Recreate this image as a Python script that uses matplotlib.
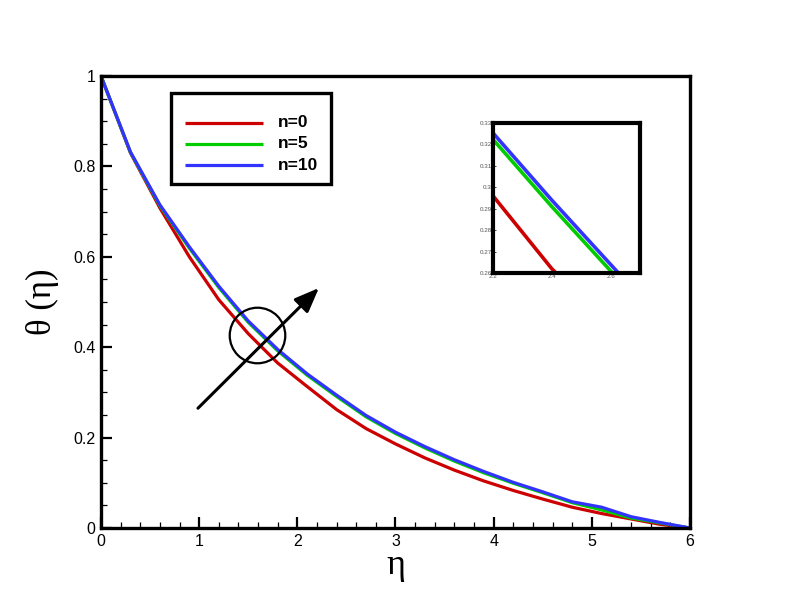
import matplotlib
matplotlib.use("Agg")
import matplotlib.pyplot as plt
from matplotlib.ticker import MultipleLocator, FixedLocator, FuncFormatter
from matplotlib.patches import Rectangle

eta = [0.0, 0.3, 0.6, 0.9, 1.2, 1.5, 1.8, 2.1, 2.4, 2.7, 3.0, 3.3, 3.6, 3.9,
       4.2, 4.5, 4.8, 5.1, 5.4, 5.7, 6.0]
theta_n0 = [1.0, 0.830, 0.708, 0.600, 0.505, 0.430, 0.365, 0.313, 0.262, 0.220,
            0.186, 0.155, 0.128, 0.104, 0.083, 0.064, 0.046, 0.032, 0.020, 0.008, 0.0]
theta_n5 = [1.0, 0.831, 0.713, 0.619, 0.532, 0.455, 0.392, 0.338, 0.291, 0.246,
            0.209, 0.177, 0.148, 0.122, 0.099, 0.078, 0.056, 0.040, 0.022, 0.011, 0.0]
theta_n10 = [1.0, 0.832, 0.715, 0.622, 0.535, 0.458, 0.395, 0.341, 0.294, 0.249,
             0.212, 0.180, 0.151, 0.125, 0.101, 0.080, 0.058, 0.046, 0.025, 0.012, 0.0]
labels = ["n=0", "n=5", "n=10"]
colors = ["#CC0000", "#00CC00", "#3333FF"]

fig = plt.figure(figsize=(7.89, 5.96), dpi=100)
ax = fig.add_axes([0.128, 0.1141, 0.7465, 0.7584])

for y, lab, c in zip([theta_n0, theta_n5, theta_n10], labels, colors):
    ax.plot(eta, y, color=c, lw=2.3, label=lab, solid_joinstyle="round")

ax.set_xlim(0, 6)
ax.set_ylim(0, 1)
ax.xaxis.set_major_locator(MultipleLocator(1))
ax.xaxis.set_minor_locator(MultipleLocator(0.2))
ax.yaxis.set_major_locator(MultipleLocator(0.2))
ax.yaxis.set_minor_locator(MultipleLocator(0.05))
ax.tick_params(which="both", direction="in", top=False, right=False, color="black")
ax.tick_params(which="major", length=8, width=1.6, labelsize=11.5, pad=4)
ax.tick_params(which="minor", length=4, width=0.9)
ax.xaxis.set_major_formatter(FuncFormatter(lambda v, p: f"{v:g}"))
ax.yaxis.set_major_formatter(FuncFormatter(lambda v, p: f"{v:g}"))
for lbl in ax.get_xticklabels() + ax.get_yticklabels():
    lbl.set_family("Liberation Sans")
for s in ax.spines.values():
    s.set_linewidth(2.4)

ax.set_xlabel("η", family="Liberation Serif", fontsize=26, labelpad=0)
ax.set_ylabel("θ (η)", family="Liberation Serif", fontsize=25, labelpad=10)

# legend drawn as a framed key (axes-fraction layout)
ax.add_patch(Rectangle((0.1188, 0.761), 0.2717, 0.2014, transform=ax.transAxes,
                       fill=True, facecolor="white", edgecolor="black", lw=2.4,
                       zorder=5))
row_y = [0.896, 0.8496, 0.803]
for ry, lab, c in zip(row_y, labels, colors):
    ax.plot([0.1426, 0.275], [ry, ry], transform=ax.transAxes, color=c, lw=2.3,
            zorder=6, solid_capstyle="butt")
    ax.text(0.3005, ry, lab, transform=ax.transAxes, va="center", ha="left",
            family="Liberation Sans", weight="bold", fontsize=12.5, zorder=6)

# arrow and circle annotation
ax.annotate("", xy=(2.22, 0.531), xytext=(0.988, 0.265),
            arrowprops=dict(arrowstyle="-|>,head_length=1.5,head_width=0.6",
                            color="black", lw=2.2, shrinkA=0, shrinkB=0))
ax.plot([1.589], [0.427], marker="o", markersize=40, mfc="none", mec="black", mew=1.6)

# inset
axi = fig.add_axes([0.6248, 0.542, 0.1863, 0.2517])
for y, c in zip([theta_n0, theta_n5, theta_n10], colors):
    axi.plot(eta, y, color=c, lw=2.6)
axi.set_xlim(2.2, 2.7)
axi.set_ylim(0.26, 0.33)
axi.xaxis.set_major_locator(FixedLocator([2.2, 2.4, 2.6]))
axi.yaxis.set_major_locator(MultipleLocator(0.01))
axi.xaxis.set_major_formatter(FuncFormatter(lambda v, p: f"{v:g}"))
axi.yaxis.set_major_formatter(FuncFormatter(lambda v, p: f"{v:.2f}".rstrip("0")))
axi.tick_params(which="both", direction="in", top=False, right=False, labelsize=4.5,
                pad=1, length=2, width=0.5, labelcolor="#555555")
for lbl in axi.get_xticklabels() + axi.get_yticklabels():
    lbl.set_family("Liberation Sans")
for s in axi.spines.values():
    s.set_linewidth(3)

fig.savefig("out.png", dpi=100)
